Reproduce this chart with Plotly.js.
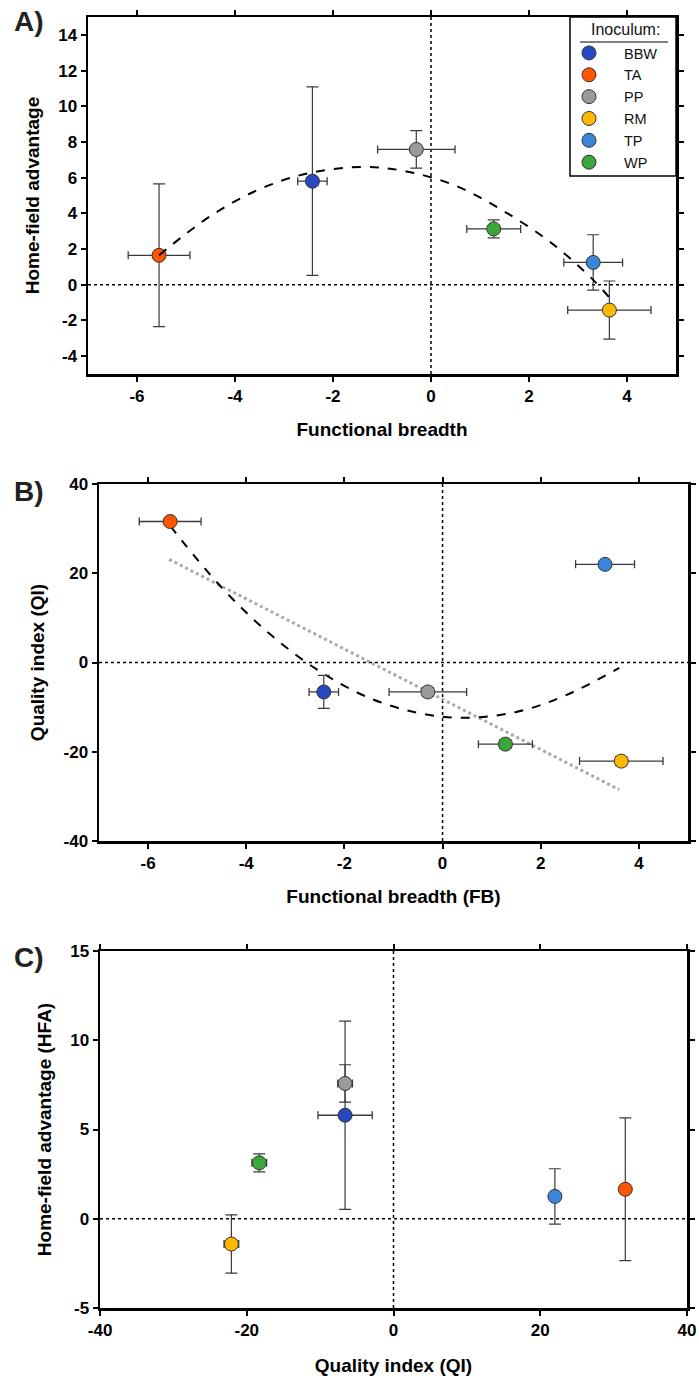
<!DOCTYPE html>
<html><head><meta charset="utf-8">
<script src="https://cdn.plot.ly/plotly-3.0.1.min.js"></script>
<style>html,body{margin:0;padding:0;background:#fff}#chart{width:699px;height:1380px}</style>
</head><body><div id="chart"></div>
<script>
// ---- data ----
const inoculum = ["BBW", "TA", "PP", "RM", "TP", "WP"];
const FB      = [-2.42, -5.55, -0.30, 3.64, 3.31, 1.28];
const FB_err  = [0.30, 0.63, 0.79, 0.85, 0.60, 0.55];
const HFA     = [5.80, 1.65, 7.58, -1.42, 1.25, 3.13];
const HFA_err = [5.28, 4.00, 1.05, 1.63, 1.55, 0.50];
const QI      = [-6.6, 31.6, -6.6, -22.1, 22.0, -18.3];
const QI_err  = [3.7, 0.6, 1.0, 1.0, 0.5, 1.0];
// fitted curves
const curveA_x = [-5.55, -4.5, -3.5, -2.5, -1.4, -0.5, 0.5, 1.5, 2.5, 3.3, 3.65];
const curveA_y = [1.65, 3.85, 5.35, 6.25, 6.6, 6.35, 5.55, 4.1, 2.25, 0.3, -0.75];
const curveB_x = [-5.55, -4.5, -3.5, -2.5, -1.5, -0.5, 0.45, 1.5, 2.5, 3.6];
const curveB_y = [30.6, 16.8, 6.2, -2.0, -7.9, -11.3, -12.4, -11.1, -7.4, -1.2];
const lineB_x  = [-5.57, 3.6];
const lineB_y  = [23.1, -28.5];
// tick labels
const fbTicks   = [-6, -4, -2, 0, 2, 4];
const fbLabels  = ["-6", "-4", "-2", "0", "2", "4"];
const hfaTicksA = [-4, -2, 0, 2, 4, 6, 8, 10, 12, 14];
const hfaLabelsA= ["-4", "-2", "0", "2", "4", "6", "8", "10", "12", "14"];
const qiTicks   = [-40, -20, 0, 20, 40];
const qiLabels  = ["-40", "-20", "0", "20", "40"];
const hfaTicksC = [-5, 0, 5, 10, 15];
const hfaLabelsC= ["-5", "0", "5", "10", "15"];

// ---- styles ----
const colors = {BBW:"#2748c0", TA:"#ff5500", PP:"#9a9a9a", RM:"#ffb800", TP:"#3a86d8", WP:"#3aa83a"};
const FONT = "Liberation Sans, Arial, sans-serif";
const errCol = "#3a3a3a";

const traces = [];
function addPoints(xs, xe, ys, ye, xa, ya, legend) {
  inoculum.forEach((name, i) => {
    traces.push({
      type: "scatter", mode: "markers", name: name,
      x: [xs[i]], y: [ys[i]], xaxis: xa, yaxis: ya,
      showlegend: legend, legendgroup: name,
      marker: {size: 14, color: colors[name], line: {color: "#333", width: 1}},
      error_x: {type: "data", array: [xe[i]], visible: true, color: errCol, thickness: 1.3, width: 4},
      error_y: {type: "data", array: [ye[i]], visible: true, color: errCol, thickness: 1.2, width: 6},
      hoverinfo: "skip"
    });
  });
}
// Panel A
addPoints(FB, FB_err, HFA, HFA_err, "x", "y", true);
traces.push({type:"scatter", mode:"lines", x: curveA_x, y: curveA_y, xaxis:"x", yaxis:"y",
  line:{shape:"spline", color:"#000", width:2, dash:"dash"}, showlegend:false, hoverinfo:"skip"});
// Panel B
traces.push({type:"scatter", mode:"lines", x: lineB_x, y: lineB_y, xaxis:"x2", yaxis:"y2",
  line:{color:"#aaaaaa", width:3, dash:"dot"}, showlegend:false, hoverinfo:"skip"});
traces.push({type:"scatter", mode:"lines", x: curveB_x, y: curveB_y, xaxis:"x2", yaxis:"y2",
  line:{shape:"spline", color:"#000", width:2, dash:"dash"}, showlegend:false, hoverinfo:"skip"});
addPoints(FB, FB_err, QI, QI_err, "x2", "y2", false);
// Panel C
addPoints(QI, QI_err, HFA, HFA_err, "x3", "y3", false);

const W = 699, H = 1380;
function px(x){return x / W;}
function py(y){return 1 - y / H;}

function axis(extra) {
  return Object.assign({
    showline: true, linecolor: "#000", linewidth: 2.5, mirror: "ticks",
    ticks: "outside", ticklen: 5, tickwidth: 2, tickcolor: "#000",
    showgrid: false, zeroline: false, tickmode: "array", ticklabeloverflow: "allow",
    tickfont: {family: FONT, size: 17, color: "#000", weight: "bold"},
    fixedrange: true
  }, extra);
}
function title(t, standoff) {
  return {text: t, standoff: standoff, font: {family: FONT, size: 19, color: "#000", weight: "bold"}};
}

const layout = {
  width: W, height: H, margin: {l:0, r:0, t:0, b:0},
  paper_bgcolor: "#fff", plot_bgcolor: "#fff",
  showlegend: true,
  legend: {
    x: px(554), xanchor: "left", y: py(37), yanchor: "top",
    bgcolor: "rgba(0,0,0,0)", borderwidth: 0,
    font: {family: FONT, size: 14.5, color: "#111"},
    itemwidth: 60,
    tracegroupgap: 0, itemclick: false, itemdoubleclick: false
  },
  xaxis:  axis({domain:[px(88), px(676)], range:[-7, 5], tickvals: fbTicks, ticktext: fbLabels, anchor:"y",  title: title("Functional breadth", 18)}),
  yaxis:  axis({domain:[py(374), py(17)], range:[-5, 15], tickvals: hfaTicksA, ticktext: hfaLabelsA, anchor:"x",  title: title("Home-field advantage", 14)}),
  xaxis2: axis({domain:[px(99), px(688)], range:[-7, 5], tickvals: fbTicks, ticktext: fbLabels, anchor:"y2", title: title("Functional breadth (FB)", 18)}),
  yaxis2: axis({domain:[py(841), py(484)], range:[-40.01, 40.01], tickvals: qiTicks, ticktext: qiLabels, anchor:"x2", title: title("Quality index (QI)", 14)}),
  xaxis3: axis({domain:[px(100), px(687)], range:[-40.01, 40.01], tickvals: qiTicks, ticktext: qiLabels, anchor:"y3", title: title("Quality index (QI)", 20)}),
  yaxis3: axis({domain:[py(1308), py(951)], range:[-5.005, 15.005], tickvals: hfaTicksC, ticktext: hfaLabelsC, anchor:"x3", title: title("Home-field advantage (HFA)", 14)}),
  shapes: [],
  annotations: [
    {text:"A)", xref:"paper", yref:"paper", x:px(12), y:py(22), xanchor:"left", yanchor:"middle", showarrow:false, font:{family:FONT, size:28, weight:"bold", color:"#222"}},
    {text:"B)", xref:"paper", yref:"paper", x:px(12), y:py(491), xanchor:"left", yanchor:"middle", showarrow:false, font:{family:FONT, size:28, weight:"bold", color:"#222"}},
    {text:"C)", xref:"paper", yref:"paper", x:px(12), y:py(957), xanchor:"left", yanchor:"middle", showarrow:false, font:{family:FONT, size:28, weight:"bold", color:"#222"}},
    {text:"Inoculum:", xref:"paper", yref:"paper", x:px(625), y:py(30), xanchor:"center", yanchor:"middle", showarrow:false, font:{family:FONT, size:16, color:"#111"}}
  ]
};
// dotted zero lines
[["x","y"],["x2","y2"],["x3","y3"]].forEach(([xa, ya]) => {
  layout.shapes.push({type:"line", xref:xa, yref:ya+" domain", x0:0, x1:0, y0:0, y1:1, line:{color:"#000", width:1.5, dash:"dot"}, layer:"below"});
  layout.shapes.push({type:"line", xref:xa+" domain", yref:ya, x0:0, x1:1, y0:0, y1:0, line:{color:"#000", width:1.5, dash:"dot"}, layer:"below"});
});
// legend box and underline of legend title
layout.shapes.push({type:"rect", xref:"paper", yref:"paper", x0:px(570), x1:px(676), y0:py(176), y1:py(17), fillcolor:"#fff", line:{color:"#000", width:1.5}, layer:"above"});
layout.shapes.push({type:"line", xref:"paper", yref:"paper", x0:px(580), x1:px(668), y0:py(42), y1:py(42), line:{color:"#000", width:1}, layer:"above"});

Plotly.newPlot("chart", traces, layout, {displayModeBar:false, staticPlot:true});
</script></body></html>
